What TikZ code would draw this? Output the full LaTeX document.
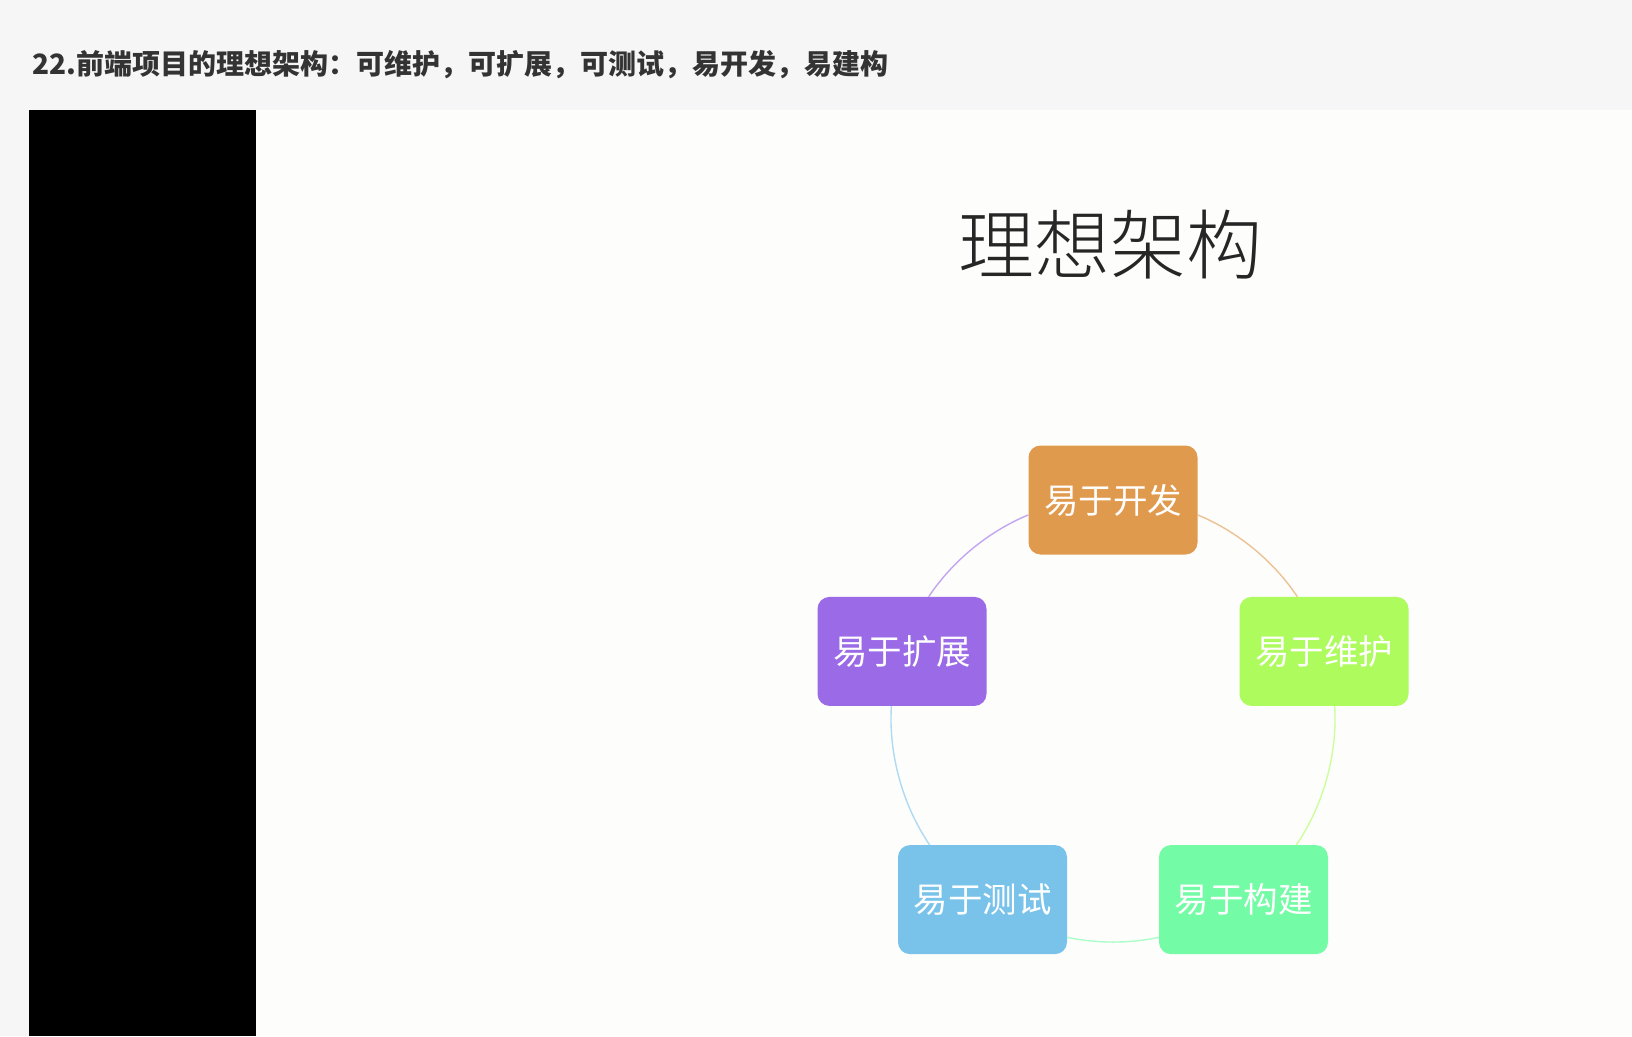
\documentclass[tikz,border=0pt]{standalone}
\usepackage{fontspec}
\usetikzlibrary{positioning}
\newfontfamily\cjk{Noto Sans CJK SC}
\newfontfamily\cjklight{Noto Sans CJK SC Light}
\definecolor{pagebg}{HTML}{F6F6F6}
\definecolor{slidebg}{HTML}{FDFDFB}
\definecolor{devcol}{HTML}{E09A4E}
\definecolor{maintcol}{HTML}{ADFB5C}
\definecolor{buildcol}{HTML}{74FBA6}
\definecolor{testcol}{HTML}{79C2EA}
\definecolor{extcol}{HTML}{9B6AE6}

\begin{document}
\begin{tikzpicture}[x=1pt, y=-1pt,
  aim/.style={rounded corners=12pt, minimum width=169pt, minimum height=109pt, inner sep=0pt,
    text=white, font=\cjk\fontsize{34.5}{38}\selectfont},
  ring/.style={line width=1.4pt, looseness=0.85}]
  % page and slide
  \fill[pagebg] (0,0) rectangle (1632,1036);
  \fill[black] (29,110) rectangle (256,1036);
  \fill[slidebg] (256,110) rectangle (1632,1036);
  \useasboundingbox (0,0) rectangle (1632,1036);

  \node[anchor=west, text=black!80, font=\cjk\bfseries\fontsize{28}{31}\selectfont] (head) at (29,65)
    {22.前端项目的理想架构：可维护，可扩展，可测试，易开发，易建构};
  \node[font=\cjklight\fontsize{76}{80}\selectfont, text=black!85] (title) at (1110,245) {理想架构};

  % the five goals round the ring
  \node[aim, fill=devcol] (dev) at (1113,500) {易于开发};
  \node[aim, fill=maintcol] (maint) at (1324,651.4) {易于维护};
  \node[aim, fill=buildcol] (build) at (1243.5,899.6) {易于构建};
  \node[aim, fill=testcol] (test) at (982.5,899.6) {易于测试};
  \node[aim, fill=extcol] (ext) at (902,651.4) {易于扩展};

  \draw[ring, devcol!60] (dev.-10) to[bend left=17] (maint.116);
  \draw[ring, maintcol!60] (maint.-79) to[bend left=19] (build.46);
  \draw[ring, buildcol!60] (build.204) to[bend left=12] (test.-24);
  \draw[ring, testcol!60] (test.134) to[bend left=19] (ext.259);
  \draw[ring, extcol!60] (ext.64) to[bend left=17] (dev.190);
\end{tikzpicture}
\end{document}
